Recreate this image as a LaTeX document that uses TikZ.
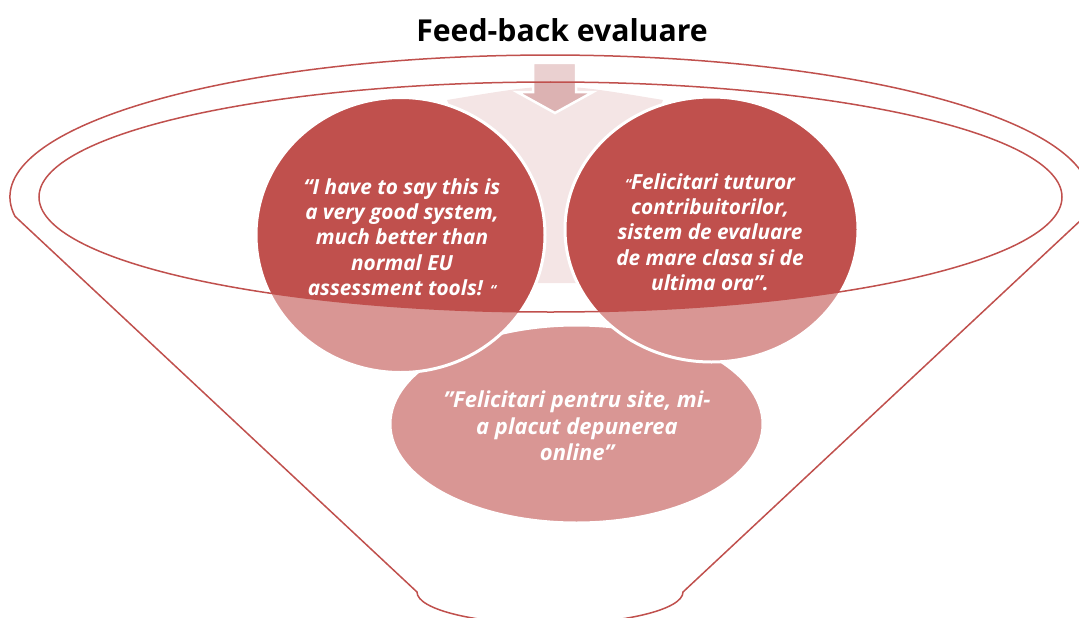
\documentclass[tikz,border=0pt]{standalone}
\usepackage{fontspec}
\setmainfont{Open Sans}
\definecolor{fred}{RGB}{192,80,77}
\definecolor{fpink}{RGB}{244,229,229}
\definecolor{farrow}{RGB}{220,178,178}
\tikzset{
  bubble/.style={fill=fred, draw=white, line width=3pt},
  funnelline/.style={draw=fred, line width=1.5pt},
  quotetext/.style={text=white, font=\fontsize{20.8}{25.3}\selectfont\bfseries\itshape, align=center, inner sep=0pt},
  bigquotetext/.style={text=white, font=\fontsize{22}{26.5}\selectfont\bfseries\itshape, align=center, inner sep=0pt},
  titletext/.style={text=black, font=\fontsize{30.2}{34}\selectfont\bfseries, inner sep=0pt}
}
\begin{document}
\begin{tikzpicture}[x=1pt,y=-1pt]
\useasboundingbox (0,0) rectangle (1079,618);
\begin{scope}
\clip (0,0) rectangle (1079,618);
% background pale shape
\fill[fpink] (447,100) .. controls (555,82) .. (663,100) -- (600,283) -- (520,283) -- cycle;
% bottom ellipse
\path[bubble] (576.5,424) ellipse [x radius=186.5, y radius=99];
% circles
\path[bubble] (400.5,235) ellipse [x radius=144.5, y radius=137.5];
\path[bubble] (711.5,229.5) ellipse [x radius=146.5, y radius=132.5];
% arrow
\path[fill=farrow, draw=white, line width=2.5pt, line join=miter]
  (533,63) -- (576,63) -- (576,92) -- (593,92) -- (555,113) -- (517,92) -- (533,92) -- cycle;
% translucent funnel body
\fill[white, opacity=0.4, even odd rule]
  (15,216.3) arc[start angle=172.2, end angle=367.8, x radius=540, y radius=142]
  -- (683,592) arc[start angle=0, end angle=180, x radius=133, y radius=32] -- cycle
  (550.5,197) ellipse [x radius=511.5, y radius=115];
% funnel outlines
\path[funnelline]
  (15,216.3) arc[start angle=172.2, end angle=367.8, x radius=540, y radius=142]
  -- (683,592) arc[start angle=0, end angle=180, x radius=133, y radius=32] -- cycle;
\path[funnelline] (550.5,197) ellipse [x radius=511.5, y radius=115];
\end{scope}
% texts
\node[titletext] (title) at (562,30) {Feed-back evaluare};
\node[quotetext] (q1) at (402,237) {“I have to say this is\\a very good system,\\much better than\\normal EU\\assessment tools! {\fontsize{14}{14}\selectfont “}};
\node[quotetext] (q2) at (710,232) {{\fontsize{14}{14}\selectfont “}Felicitari tuturor\\contribuitorilor,\\sistem de evaluare\\de mare clasa si de\\ultima ora”.};
\node[bigquotetext] (q3) at (577,426) {{\char34}Felicitari pentru site, mi-\\a placut depunerea\\online{\char34}};
\end{tikzpicture}
\end{document}
